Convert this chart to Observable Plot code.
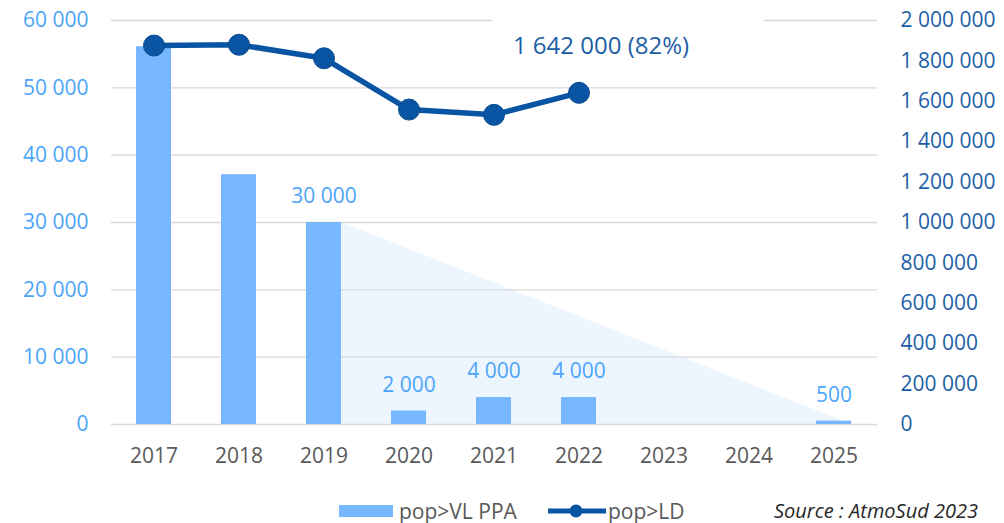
<!DOCTYPE html>
<html><head><meta charset="utf-8">
<script src="https://cdn.jsdelivr.net/npm/d3@7"></script>
<script src="https://cdn.jsdelivr.net/npm/@observablehq/plot@0.6"></script>
<style>
body{margin:0;background:#fff;font-family:"Open Sans",sans-serif;}
#wrap{position:relative;width:1004px;height:523px;}
#legend{position:relative;width:1004px;height:38px;}
#legend .t{position:absolute;font-size:21px;line-height:22px;top:15px;color:#595959;white-space:nowrap;}
#legend .sw{position:absolute;left:339px;top:20px;width:54px;height:12px;background:#77B7FE;}
#legend svg{position:absolute;left:546px;top:16px;}
#legend .src{position:absolute;right:26px;top:15px;font-size:20px;line-height:22px;font-style:italic;color:#262626;white-space:nowrap;}
</style></head><body>
<div id="wrap"><div id="chart"></div>
<div id="legend">
  <div class="sw"></div><div class="t" style="left:399px">pop&gt;VL PPA</div>
  <svg width="62" height="20"><line x1="2" y1="10" x2="60" y2="10" stroke="#0A55A3" stroke-width="5"/><circle cx="30" cy="10" r="6.5" fill="#0A55A3"/></svg>
  <div class="t" style="left:608px">pop&gt;LD</div>
  <div class="src">Source : AtmoSud 2023</div>
</div></div>
<script>
// ---- data ----
const years = ["2017","2018","2019","2020","2021","2022","2023","2024","2025"];
const barYears = ["2017","2018","2019","2020","2021","2022","2025"];
const barValues = [56100, 37100, 30000, 2000, 4000, 4000, 500];
const labeledYears = ["2019","2020","2021","2022","2025"];
const labeledValues = [30000, 2000, 4000, 4000, 500];
const lineYears = ["2017","2018","2019","2020","2021","2022"];
const lineValues = [1876000, 1880000, 1813000, 1559000, 1533000, 1642000];
const annotationYears = ["2022"];
const annotationValues = [1642000];
const annotationText = ["1 642 000 (82%)"];
const trendYears = ["2019","2025"];
const trendValues = [30000, 0];
const leftTicks = [0, 10000, 20000, 30000, 40000, 50000, 60000];
const rightTicks = [0, 200000, 400000, 600000, 800000, 1000000, 1200000, 1400000, 1600000, 1800000, 2000000];
const leftMax = 60000, rightMax = 2000000;

// ---- layout ----
const W = 1004, H = 485, ML = 111, MR = 127, MT = 20, MB = 61;
const padIn = 0.585;
const step = (W - ML - MR) / years.length;
const bw = step * (1 - padIn);
const k = leftMax / rightMax;
const fmt = d3.formatLocale({decimal: ",", thousands: " ", grouping: [3], currency: ["", ""]}).format(",d");

const cBar = "#77B7FE", cLine = "#0A55A3", cLeft = "#4CA5FA", cRight = "#1D5FA6", cGrid = "#D9D9D9";

const chart = Plot.plot({
  width: W, height: H, marginLeft: ML, marginRight: MR, marginTop: MT, marginBottom: MB,
  style: {fontFamily: '"Open Sans", sans-serif', fontSize: "21px", background: "#fff", overflow: "visible"},
  x: {type: "band", domain: years, paddingInner: padIn, paddingOuter: padIn / 2, align: 0.5},
  y: {domain: [0, leftMax]},
  marks: [
    Plot.areaY(trendValues, {x: trendYears, y: trendValues, dx: bw / 2, fill: "#EDF5FE"}),
    Plot.gridY(leftTicks.filter(t => t > 0), {stroke: cGrid, strokeOpacity: 1, strokeWidth: 1.3}),
    Plot.ruleY([0], {stroke: cGrid, strokeWidth: 1.5}),
    Plot.barY(barValues, {x: barYears, y: barValues, fill: cBar}),
    Plot.text(labeledValues, {x: labeledYears, y: labeledValues, text: d => fmt(d), dy: -26, fill: cLeft, fontSize: 21}),
    Plot.line(lineValues, {x: lineYears, y: lineValues.map(v => v * k), stroke: cLine, strokeWidth: 5.5}),
    Plot.dot(lineValues, {x: lineYears, y: lineValues.map(v => v * k), r: 10.5, fill: cLine, stroke: "#08498E", strokeWidth: 1}),
    Plot.axisY(leftTicks, {anchor: "left", tickSize: 0, tickPadding: 23, tickFormat: fmt, color: cLeft, label: null}),
    Plot.axisY(rightTicks.map(t => t * k), {anchor: "right", tickSize: 0, tickPadding: 23, tickFormat: d => fmt(Math.round(d / k)), color: cRight, label: null}),
    Plot.axisX({tickSize: 0, tickPadding: 24, color: "#595959", label: null}),
    Plot.text(annotationValues, {x: annotationYears, y: annotationValues.map(v => v * k), text: annotationText, dx: 22, dy: -47, fill: cRight, fontSize: 24})
  ]
});
document.getElementById("chart").appendChild(chart);

// white label box behind annotation (hides the top gridline like the original)
const ann = Array.from(chart.querySelectorAll("text")).find(t => t.textContent === annotationText[0]);
if (ann) {
  const b = ann.getBBox();
  const rect = document.createElementNS("http://www.w3.org/2000/svg", "rect");
  rect.setAttribute("x", b.x - 21);
  rect.setAttribute("y", b.y - 18);
  rect.setAttribute("width", b.width + 96);
  rect.setAttribute("height", b.height + 18);
  rect.setAttribute("fill", "#fff");
  const tr = ann.getAttribute("transform");
  if (tr) rect.setAttribute("transform", tr);
  ann.parentNode.insertBefore(rect, ann);
}
</script>
</body></html>
